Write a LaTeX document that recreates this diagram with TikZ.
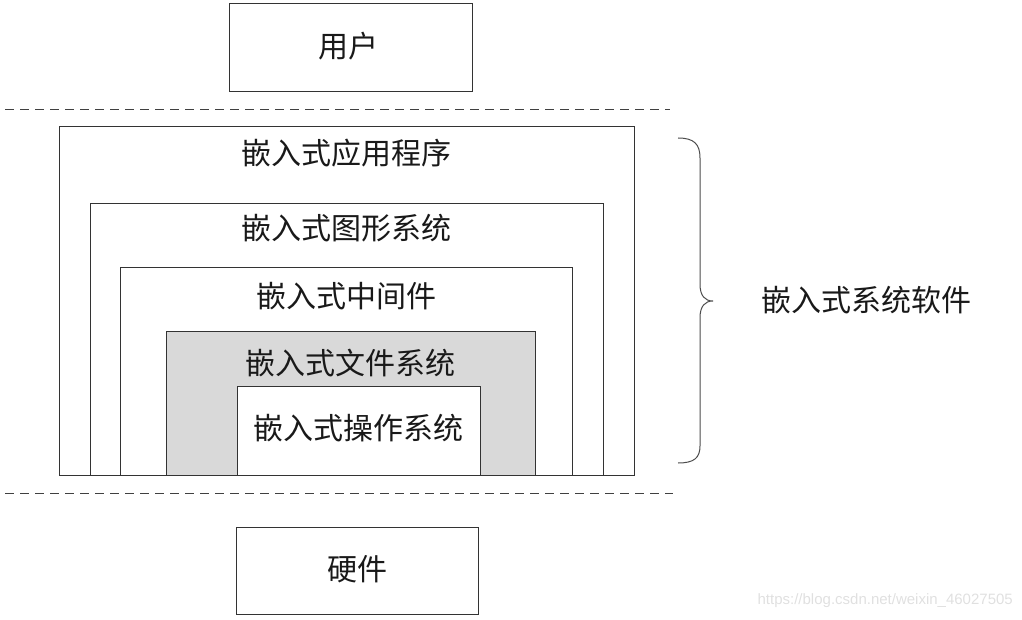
\documentclass[tikz,border=0pt]{standalone}
\usepackage{fontspec}
\newfontfamily\cjk{Noto Sans CJK SC}
\newfontfamily\wmfont{Liberation Sans}
\begin{document}
\begin{tikzpicture}[x=1pt,y=-1pt,
  box/.style={draw=black!80, line width=1pt, fill=white, inner sep=0pt, anchor=north west},
  lbl/.style={font=\cjk\fontsize{30}{32}\selectfont, text=black!90, inner sep=0pt},
  sep/.style={draw=black!75, line width=1pt, dash pattern=on 9pt off 6pt}]
\useasboundingbox (0,0) rectangle (1022,620);
% user
\node[box, minimum width=243pt, minimum height=88pt] (user) at (229,3) {};
\node[lbl] (userl) at (348,46) {用户};
% separators
\coordinate (s1a) at (5,110); \coordinate (s1b) at (670,110);
\draw[sep] (s1a) -- (s1b);
\coordinate (s2a) at (5,493); \coordinate (s2b) at (673,493);
\draw[sep] (s2a) -- (s2b);
% nested boxes
\node[box, minimum width=575pt, minimum height=349pt] (app) at (59,126) {};
\node[lbl] (appl) at (346,153) {嵌入式应用程序};
\node[box, minimum width=513pt, minimum height=272pt] (gui) at (90,203) {};
\node[lbl] (guil) at (346,228) {嵌入式图形系统};
\node[box, minimum width=452pt, minimum height=208pt] (mid) at (120,267) {};
\node[lbl] (midl) at (346,296) {嵌入式中间件};
\node[box, fill=black!15, minimum width=369pt, minimum height=144pt] (fs) at (166,331) {};
\node[lbl] (fsl) at (350,363) {嵌入式文件系统};
\node[box, minimum width=243pt, minimum height=89pt] (os) at (237,386) {};
\node[lbl] (osl) at (358,428) {嵌入式操作系统};
% hardware
\node[box, minimum width=242pt, minimum height=87pt] (hw) at (236,527) {};
\node[lbl] (hwl) at (357,569) {硬件};
% brace
\draw[draw=black!70, line width=1pt]
  (678,138) .. controls (694,138) and (700,144) .. (700,158)
  -- (700,284) .. controls (700,296) and (705,301) .. (713,301)
  .. controls (705,301) and (700,306) .. (700,318)
  -- (700,446) .. controls (700,458) and (694,463) .. (678,463);
\node[lbl] (sw) at (866,300) {嵌入式系统软件};
% watermark
\node[font=\wmfont\fontsize{15}{17}\selectfont, text=black!12, anchor=east, inner sep=0pt] (wm) at (1013,601) {https://blog.csdn.net/weixin\_46027505};
\end{tikzpicture}
\end{document}
